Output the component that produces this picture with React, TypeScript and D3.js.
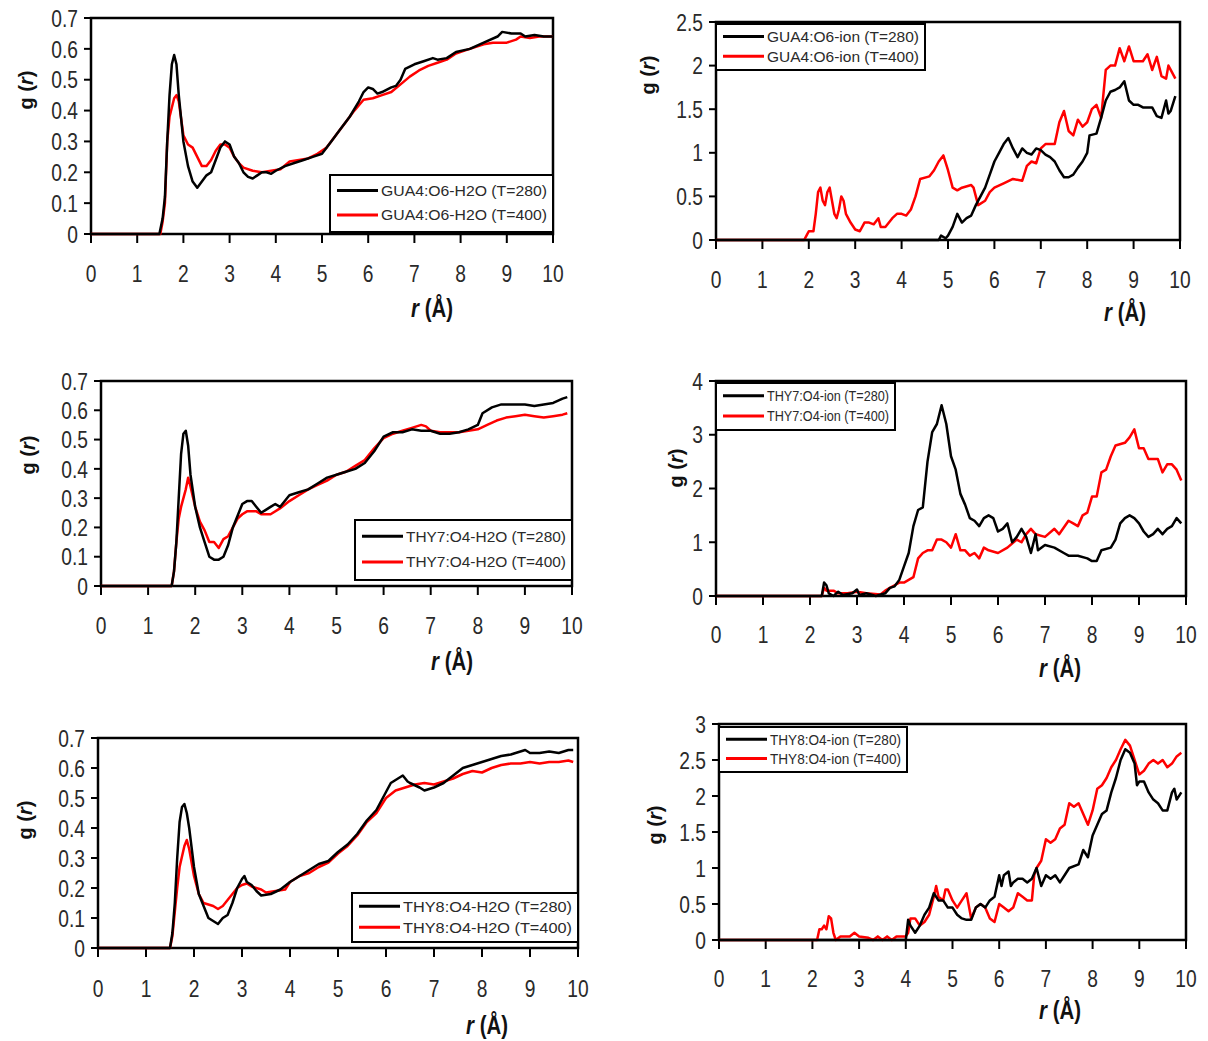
import React from "react";
import * as d3 from "d3";

type Pt = [number, number];

// ---------- DATA ----------
const xTicks = [0, 1, 2, 3, 4, 5, 6, 7, 8, 9, 10];
const yTicksWater = [0, 0.1, 0.2, 0.3, 0.4, 0.5, 0.6, 0.7];
const yTicksGuaIon = [0, 0.5, 1, 1.5, 2, 2.5];
const yTicksThy7Ion = [0, 1, 2, 3, 4];
const yTicksThy8Ion = [0, 0.5, 1, 1.5, 2, 2.5, 3];

const gua4H2O_280: Pt[] = [
  [0, 0], [1.48, 0], [1.55, 0.05], [1.6, 0.12], [1.65, 0.3], [1.7, 0.45], [1.75, 0.55], [1.8, 0.58], [1.85, 0.55],
  [1.9, 0.45], [2.0, 0.3], [2.1, 0.22], [2.2, 0.17], [2.3, 0.15], [2.4, 0.17], [2.5, 0.19], [2.6, 0.2], [2.7, 0.24],
  [2.8, 0.28], [2.9, 0.3], [3.0, 0.29], [3.1, 0.25], [3.2, 0.23], [3.3, 0.2], [3.4, 0.185], [3.5, 0.18], [3.6, 0.19],
  [3.7, 0.2], [3.8, 0.2], [3.9, 0.195], [4.0, 0.205], [4.2, 0.22], [4.4, 0.23], [4.6, 0.24], [4.8, 0.25], [5.0, 0.26],
  [5.2, 0.3], [5.4, 0.34], [5.6, 0.38], [5.8, 0.43], [5.9, 0.46], [6.0, 0.475], [6.1, 0.47], [6.2, 0.455], [6.3, 0.46],
  [6.5, 0.475], [6.6, 0.48], [6.7, 0.5], [6.8, 0.535], [7.0, 0.55], [7.2, 0.56], [7.4, 0.57], [7.5, 0.565], [7.7, 0.57],
  [7.9, 0.59], [8.2, 0.6], [8.5, 0.62], [8.8, 0.64], [8.9, 0.655], [9.1, 0.65], [9.3, 0.65], [9.4, 0.64], [9.6, 0.645],
  [9.8, 0.64], [10, 0.64],
];
const gua4H2O_400: Pt[] = [
  [0, 0], [1.5, 0], [1.55, 0.04], [1.6, 0.1], [1.65, 0.3], [1.7, 0.38], [1.8, 0.44], [1.85, 0.45], [1.9, 0.43],
  [2.0, 0.32], [2.1, 0.29], [2.2, 0.28], [2.3, 0.25], [2.4, 0.22], [2.5, 0.22], [2.6, 0.24], [2.7, 0.27], [2.8, 0.29],
  [2.9, 0.29], [3.0, 0.28], [3.1, 0.25], [3.2, 0.23], [3.3, 0.215], [3.5, 0.205], [3.7, 0.2], [3.9, 0.205], [4.1, 0.21],
  [4.3, 0.235], [4.5, 0.24], [4.7, 0.245], [4.9, 0.26], [5.1, 0.28], [5.3, 0.32], [5.5, 0.36], [5.7, 0.4], [5.9, 0.435],
  [6.1, 0.44], [6.3, 0.45], [6.5, 0.46], [6.7, 0.485], [6.9, 0.51], [7.1, 0.53], [7.3, 0.545], [7.5, 0.555], [7.7, 0.565],
  [7.9, 0.585], [8.1, 0.595], [8.3, 0.605], [8.5, 0.615], [8.7, 0.62], [9.0, 0.62], [9.2, 0.63], [9.3, 0.64], [9.5, 0.635],
  [9.7, 0.64], [10, 0.64],
];

const gua4Ion_280: Pt[] = [
  [0, 0], [4.8, 0], [4.85, 0.05], [4.95, 0.02], [5.0, 0.05], [5.1, 0.15], [5.2, 0.3], [5.3, 0.2], [5.4, 0.25], [5.5, 0.28],
  [5.6, 0.4], [5.7, 0.5], [5.8, 0.6], [5.9, 0.75], [6.0, 0.9], [6.1, 1.0], [6.2, 1.1], [6.3, 1.17], [6.4, 1.05], [6.5, 0.95],
  [6.6, 1.05], [6.7, 1.0], [6.8, 0.98], [6.9, 1.05], [7.0, 1.03], [7.1, 0.98], [7.2, 0.95], [7.3, 0.9], [7.4, 0.8],
  [7.5, 0.72], [7.6, 0.72], [7.7, 0.75], [7.8, 0.83], [7.9, 0.9], [8.0, 1.0], [8.05, 1.2], [8.2, 1.22], [8.3, 1.4],
  [8.4, 1.6], [8.5, 1.7], [8.6, 1.72], [8.7, 1.75], [8.8, 1.82], [8.9, 1.6], [9.0, 1.55], [9.1, 1.55], [9.2, 1.52],
  [9.4, 1.52], [9.5, 1.42], [9.6, 1.4], [9.7, 1.6], [9.75, 1.45], [9.8, 1.48], [9.9, 1.65],
];
const gua4Ion_400: Pt[] = [
  [0, 0], [1.9, 0], [1.95, 0.05], [2.0, 0.1], [2.1, 0.1], [2.15, 0.3], [2.2, 0.55], [2.25, 0.6], [2.3, 0.45], [2.35, 0.4],
  [2.4, 0.55], [2.45, 0.6], [2.5, 0.45], [2.55, 0.3], [2.6, 0.25], [2.65, 0.35], [2.7, 0.5], [2.75, 0.45], [2.8, 0.3],
  [2.9, 0.2], [3.0, 0.12], [3.1, 0.1], [3.2, 0.2], [3.3, 0.2], [3.4, 0.18], [3.5, 0.25], [3.55, 0.15], [3.65, 0.15],
  [3.8, 0.25], [3.9, 0.3], [4.0, 0.3], [4.1, 0.28], [4.2, 0.35], [4.3, 0.5], [4.4, 0.7], [4.6, 0.73], [4.7, 0.8],
  [4.8, 0.9], [4.9, 0.97], [5.0, 0.8], [5.1, 0.6], [5.2, 0.57], [5.3, 0.6], [5.5, 0.63], [5.55, 0.6], [5.65, 0.4],
  [5.8, 0.45], [5.9, 0.55], [6.0, 0.6], [6.2, 0.65], [6.4, 0.7], [6.6, 0.68], [6.7, 0.85], [6.8, 0.9], [6.9, 0.88],
  [7.0, 1.05], [7.1, 1.1], [7.3, 1.1], [7.4, 1.35], [7.5, 1.48], [7.6, 1.25], [7.7, 1.2], [7.8, 1.38], [7.9, 1.3],
  [8.0, 1.35], [8.1, 1.5], [8.2, 1.55], [8.3, 1.4], [8.4, 1.95], [8.5, 2.0], [8.6, 2.0], [8.7, 2.2], [8.8, 2.05],
  [8.9, 2.22], [9.0, 2.05], [9.1, 2.05], [9.2, 2.05], [9.3, 2.13], [9.4, 1.95], [9.5, 2.1], [9.6, 1.88], [9.7, 1.85],
  [9.75, 2.0], [9.8, 1.95], [9.9, 1.85],
];

const thy7H2O_280: Pt[] = [
  [0, 0], [1.5, 0], [1.55, 0.05], [1.6, 0.15], [1.65, 0.3], [1.7, 0.45], [1.75, 0.52], [1.8, 0.53], [1.85, 0.48],
  [1.9, 0.38], [2.0, 0.27], [2.1, 0.2], [2.2, 0.15], [2.3, 0.1], [2.4, 0.09], [2.5, 0.09], [2.6, 0.1], [2.7, 0.14],
  [2.8, 0.2], [2.9, 0.24], [3.0, 0.28], [3.1, 0.29], [3.2, 0.29], [3.3, 0.27], [3.4, 0.25], [3.5, 0.26], [3.6, 0.27],
  [3.7, 0.28], [3.8, 0.27], [4.0, 0.31], [4.2, 0.32], [4.4, 0.33], [4.6, 0.35], [4.8, 0.37], [5.0, 0.38], [5.2, 0.39],
  [5.4, 0.4], [5.6, 0.42], [5.8, 0.46], [6.0, 0.51], [6.2, 0.525], [6.4, 0.525], [6.6, 0.535], [6.8, 0.53], [7.0, 0.53],
  [7.2, 0.52], [7.4, 0.52], [7.6, 0.525], [7.8, 0.535], [8.0, 0.55], [8.1, 0.59], [8.3, 0.61], [8.5, 0.62], [9.0, 0.62],
  [9.2, 0.615], [9.4, 0.62], [9.6, 0.625], [9.8, 0.64], [9.9, 0.645],
];
const thy7H2O_400: Pt[] = [
  [0, 0], [1.5, 0], [1.55, 0.05], [1.6, 0.15], [1.65, 0.23], [1.7, 0.27], [1.8, 0.33], [1.85, 0.37], [1.9, 0.34],
  [2.0, 0.27], [2.1, 0.22], [2.2, 0.19], [2.3, 0.15], [2.4, 0.15], [2.5, 0.13], [2.6, 0.16], [2.7, 0.17], [2.8, 0.2],
  [2.9, 0.23], [3.0, 0.245], [3.1, 0.255], [3.3, 0.255], [3.4, 0.245], [3.6, 0.245], [3.8, 0.265], [4.0, 0.29],
  [4.2, 0.31], [4.4, 0.33], [4.6, 0.345], [4.8, 0.36], [5.0, 0.38], [5.2, 0.39], [5.4, 0.41], [5.6, 0.43], [5.8, 0.47],
  [6.0, 0.505], [6.2, 0.52], [6.4, 0.53], [6.6, 0.54], [6.8, 0.55], [6.9, 0.545], [7.0, 0.53], [7.2, 0.525], [7.4, 0.525],
  [7.6, 0.525], [7.8, 0.53], [8.0, 0.535], [8.2, 0.55], [8.4, 0.565], [8.6, 0.575], [8.8, 0.58], [9.0, 0.585],
  [9.2, 0.58], [9.4, 0.575], [9.6, 0.58], [9.8, 0.585], [9.9, 0.59],
];

const thy7Ion_280: Pt[] = [
  [0, 0], [2.25, 0], [2.3, 0.25], [2.35, 0.2], [2.4, 0.05], [2.5, 0.0], [2.6, 0.08], [2.7, 0.02], [2.9, 0.05], [3.0, 0.12],
  [3.05, 0.02], [3.2, 0.05], [3.4, 0.0], [3.6, 0.05], [3.7, 0.15], [3.8, 0.18], [3.9, 0.3], [4.0, 0.55], [4.1, 0.8],
  [4.2, 1.3], [4.3, 1.6], [4.4, 1.65], [4.5, 2.5], [4.6, 3.05], [4.7, 3.2], [4.8, 3.55], [4.9, 3.2], [5.0, 2.6],
  [5.1, 2.35], [5.2, 1.9], [5.3, 1.7], [5.4, 1.45], [5.5, 1.4], [5.6, 1.3], [5.7, 1.45], [5.8, 1.5], [5.9, 1.45],
  [6.0, 1.2], [6.1, 1.25], [6.2, 1.35], [6.3, 1.0], [6.4, 1.1], [6.5, 1.25], [6.6, 1.1], [6.7, 0.8], [6.8, 1.15],
  [6.85, 0.85], [7.0, 0.95], [7.2, 0.9], [7.4, 0.8], [7.5, 0.75], [7.7, 0.75], [7.9, 0.7], [8.0, 0.65], [8.1, 0.65],
  [8.2, 0.85], [8.4, 0.9], [8.5, 1.05], [8.6, 1.35], [8.7, 1.45], [8.8, 1.5], [8.9, 1.45], [9.0, 1.35], [9.1, 1.2],
  [9.2, 1.1], [9.3, 1.15], [9.4, 1.25], [9.5, 1.15], [9.6, 1.25], [9.7, 1.3], [9.8, 1.45], [9.9, 1.35],
];
const thy7Ion_400: Pt[] = [
  [0, 0], [2.25, 0], [2.3, 0.15], [2.35, 0.1], [2.5, 0.1], [2.6, 0.05], [2.8, 0.05], [3.0, 0.08], [3.2, 0.05], [3.5, 0.03],
  [3.6, 0.1], [3.7, 0.15], [3.8, 0.2], [3.9, 0.25], [4.0, 0.25], [4.1, 0.3], [4.2, 0.35], [4.3, 0.7], [4.4, 0.8],
  [4.5, 0.85], [4.6, 0.85], [4.7, 1.05], [4.8, 1.05], [4.9, 1.0], [5.0, 0.9], [5.1, 1.15], [5.2, 0.85], [5.3, 0.85],
  [5.4, 0.75], [5.5, 0.8], [5.6, 0.7], [5.7, 0.9], [5.8, 0.85], [6.0, 0.8], [6.2, 0.9], [6.4, 1.05], [6.5, 1.0],
  [6.6, 1.15], [6.7, 1.25], [6.8, 1.15], [7.0, 1.1], [7.2, 1.25], [7.3, 1.15], [7.5, 1.4], [7.6, 1.35], [7.7, 1.3],
  [7.8, 1.5], [7.9, 1.55], [8.0, 1.85], [8.1, 1.85], [8.2, 2.3], [8.3, 2.35], [8.4, 2.6], [8.5, 2.8], [8.7, 2.85],
  [8.8, 2.95], [8.9, 3.1], [9.0, 2.75], [9.1, 2.75], [9.2, 2.55], [9.4, 2.55], [9.5, 2.3], [9.6, 2.45], [9.7, 2.45],
  [9.8, 2.35], [9.9, 2.15],
];

const thy8H2O_280: Pt[] = [
  [0, 0], [1.5, 0], [1.55, 0.05], [1.6, 0.15], [1.65, 0.3], [1.7, 0.42], [1.75, 0.47], [1.8, 0.48], [1.85, 0.45],
  [1.9, 0.4], [2.0, 0.27], [2.1, 0.18], [2.2, 0.14], [2.3, 0.1], [2.4, 0.09], [2.5, 0.08], [2.6, 0.1], [2.7, 0.11],
  [2.8, 0.15], [2.9, 0.2], [3.0, 0.23], [3.05, 0.24], [3.1, 0.22], [3.2, 0.21], [3.3, 0.19], [3.4, 0.175], [3.6, 0.18],
  [3.8, 0.195], [4.0, 0.22], [4.2, 0.24], [4.4, 0.26], [4.6, 0.28], [4.8, 0.29], [5.0, 0.32], [5.2, 0.345], [5.4, 0.38],
  [5.6, 0.425], [5.8, 0.46], [6.0, 0.52], [6.1, 0.55], [6.2, 0.56], [6.3, 0.57], [6.35, 0.575], [6.45, 0.555],
  [6.5, 0.55], [6.7, 0.535], [6.8, 0.525], [6.9, 0.53], [7.0, 0.535], [7.2, 0.55], [7.4, 0.575], [7.6, 0.6], [7.8, 0.61],
  [8.0, 0.62], [8.2, 0.63], [8.4, 0.64], [8.6, 0.645], [8.8, 0.655], [8.9, 0.66], [9.0, 0.65], [9.2, 0.65], [9.4, 0.655],
  [9.6, 0.65], [9.8, 0.66], [9.9, 0.66],
];
const thy8H2O_400: Pt[] = [
  [0, 0], [1.5, 0], [1.55, 0.04], [1.6, 0.12], [1.65, 0.2], [1.7, 0.27], [1.8, 0.34], [1.85, 0.36], [1.9, 0.33],
  [2.0, 0.24], [2.1, 0.18], [2.2, 0.15], [2.3, 0.145], [2.4, 0.14], [2.5, 0.13], [2.6, 0.14], [2.7, 0.16], [2.8, 0.18],
  [2.9, 0.2], [3.0, 0.21], [3.1, 0.215], [3.2, 0.205], [3.4, 0.195], [3.5, 0.185], [3.7, 0.19], [3.9, 0.195], [4.0, 0.22],
  [4.2, 0.24], [4.4, 0.25], [4.6, 0.27], [4.8, 0.285], [5.0, 0.315], [5.2, 0.34], [5.4, 0.375], [5.6, 0.42], [5.8, 0.45],
  [6.0, 0.5], [6.2, 0.525], [6.4, 0.535], [6.6, 0.545], [6.8, 0.55], [7.0, 0.545], [7.2, 0.555], [7.4, 0.565],
  [7.6, 0.58], [7.8, 0.59], [8.0, 0.585], [8.2, 0.6], [8.4, 0.61], [8.6, 0.615], [8.8, 0.615], [9.0, 0.62], [9.2, 0.615],
  [9.4, 0.62], [9.6, 0.62], [9.8, 0.625], [9.9, 0.62],
];

const thy8Ion_280: Pt[] = [
  [0, 0], [4.0, 0], [4.05, 0.28], [4.1, 0.2], [4.2, 0.1], [4.3, 0.2], [4.4, 0.35], [4.5, 0.45], [4.6, 0.65], [4.7, 0.55],
  [4.8, 0.55], [4.9, 0.45], [5.0, 0.45], [5.1, 0.35], [5.2, 0.3], [5.3, 0.28], [5.4, 0.28], [5.5, 0.45], [5.6, 0.5],
  [5.7, 0.45], [5.8, 0.55], [5.9, 0.6], [6.0, 0.9], [6.05, 0.75], [6.1, 0.9], [6.2, 0.95], [6.25, 0.75], [6.3, 0.8],
  [6.4, 0.85], [6.5, 0.85], [6.6, 0.8], [6.7, 0.85], [6.8, 1.0], [6.9, 0.75], [7.0, 0.9], [7.1, 0.85], [7.2, 0.9],
  [7.3, 0.8], [7.4, 0.9], [7.5, 1.0], [7.7, 1.05], [7.8, 1.25], [7.9, 1.15], [8.0, 1.45], [8.1, 1.6], [8.2, 1.75],
  [8.3, 1.8], [8.4, 2.05], [8.5, 2.25], [8.6, 2.5], [8.7, 2.65], [8.8, 2.6], [8.9, 2.45], [8.95, 2.15], [9.0, 2.2],
  [9.1, 2.2], [9.2, 2.05], [9.3, 1.95], [9.4, 1.9], [9.5, 1.8], [9.6, 1.8], [9.7, 2.05], [9.75, 2.1], [9.8, 1.95],
  [9.9, 2.05],
];
const thy8Ion_400: Pt[] = [
  [0, 0], [2.1, 0], [2.15, 0.15], [2.2, 0.15], [2.25, 0.2], [2.3, 0.15], [2.35, 0.33], [2.4, 0.3], [2.45, 0.1], [2.5, 0.0],
  [2.6, 0.05], [2.8, 0.05], [2.9, 0.1], [3.0, 0.05], [3.2, 0.03], [3.3, 0.0], [3.4, 0.05], [3.5, 0.0], [3.6, 0.05],
  [3.7, 0.0], [3.8, 0.05], [4.0, 0.05], [4.05, 0.1], [4.1, 0.3], [4.2, 0.3], [4.3, 0.2], [4.4, 0.25], [4.5, 0.35],
  [4.6, 0.6], [4.65, 0.75], [4.7, 0.6], [4.8, 0.55], [4.85, 0.7], [4.9, 0.7], [5.0, 0.55], [5.1, 0.45], [5.2, 0.55],
  [5.3, 0.65], [5.4, 0.3], [5.5, 0.45], [5.6, 0.5], [5.7, 0.45], [5.8, 0.3], [5.9, 0.25], [6.0, 0.5], [6.1, 0.45],
  [6.2, 0.4], [6.3, 0.45], [6.4, 0.65], [6.5, 0.6], [6.6, 0.55], [6.7, 0.55], [6.75, 0.9], [6.8, 1.0], [6.9, 1.1],
  [7.0, 1.4], [7.1, 1.35], [7.2, 1.4], [7.3, 1.55], [7.4, 1.6], [7.5, 1.9], [7.6, 1.85], [7.7, 1.9], [7.8, 1.75],
  [7.9, 1.6], [8.0, 1.8], [8.1, 2.1], [8.2, 2.15], [8.3, 2.25], [8.4, 2.4], [8.5, 2.5], [8.6, 2.65], [8.7, 2.78],
  [8.8, 2.7], [8.9, 2.5], [9.0, 2.3], [9.1, 2.35], [9.2, 2.45], [9.3, 2.5], [9.4, 2.45], [9.5, 2.5], [9.6, 2.4],
  [9.7, 2.45], [9.8, 2.55], [9.9, 2.6],
];

const legendGuaH2O = ["GUA4:O6-H2O (T=280)", "GUA4:O6-H2O (T=400)"];
const legendGuaIon = ["GUA4:O6-ion (T=280)", "GUA4:O6-ion (T=400)"];
const legendThy7H2O = ["THY7:O4-H2O (T=280)", "THY7:O4-H2O (T=400)"];
const legendThy7Ion = ["THY7:O4-ion (T=280)", "THY7:O4-ion (T=400)"];
const legendThy8H2O = ["THY8:O4-H2O (T=280)", "THY8:O4-H2O (T=400)"];
const legendThy8Ion = ["THY8:O4-ion (T=280)", "THY8:O4-ion (T=400)"];

// ---------- LAYOUT ----------
type Panel = {
  x0: number; x1: number; yTop: number; yBot: number;
  yTicks: number[]; s280: Pt[]; s400: Pt[]; legend: string[];
  lg: { x: number; y: number; w: number; h: number };
  xl: { x: number; y: number }; yl: { x: number; y: number };
  tickLabelY: number;
};

const panels: Panel[] = [
  { x0: 91, x1: 553, yTop: 18, yBot: 234, yTicks: yTicksWater, s280: gua4H2O_280, s400: gua4H2O_400, legend: legendGuaH2O,
    lg: { x: 330, y: 175, w: 223, h: 57 }, xl: { x: 432, y: 308 }, yl: { x: 26, y: 90 }, tickLabelY: 273 },
  { x0: 716, x1: 1180, yTop: 22, yBot: 240, yTicks: yTicksGuaIon, s280: gua4Ion_280, s400: gua4Ion_400, legend: legendGuaIon,
    lg: { x: 716, y: 24, w: 209, h: 46 }, xl: { x: 1125, y: 312 }, yl: { x: 648, y: 75 }, tickLabelY: 279 },
  { x0: 101, x1: 572, yTop: 381, yBot: 586, yTicks: yTicksWater, s280: thy7H2O_280, s400: thy7H2O_400, legend: legendThy7H2O,
    lg: { x: 355, y: 520, w: 217, h: 60 }, xl: { x: 452, y: 661 }, yl: { x: 28, y: 455 }, tickLabelY: 625 },
  { x0: 716, x1: 1186, yTop: 381, yBot: 596, yTicks: yTicksThy7Ion, s280: thy7Ion_280, s400: thy7Ion_400, legend: legendThy7Ion,
    lg: { x: 716, y: 383, w: 179, h: 47 }, xl: { x: 1060, y: 668 }, yl: { x: 676, y: 468 }, tickLabelY: 634 },
  { x0: 98, x1: 578, yTop: 738, yBot: 948, yTicks: yTicksWater, s280: thy8H2O_280, s400: thy8H2O_400, legend: legendThy8H2O,
    lg: { x: 352, y: 893, w: 226, h: 49 }, xl: { x: 487, y: 1025 }, yl: { x: 25, y: 820 }, tickLabelY: 988 },
  { x0: 719, x1: 1186, yTop: 724, yBot: 940, yTicks: yTicksThy8Ion, s280: thy8Ion_280, s400: thy8Ion_400, legend: legendThy8Ion,
    lg: { x: 719, y: 727, w: 188, h: 45 }, xl: { x: 1060, y: 1010 }, yl: { x: 655, y: 825 }, tickLabelY: 978 },
];

const tickFont = "'Liberation Sans', Arial, sans-serif";

function TickText({ x, y, anchor, children }: { x: number; y: number; anchor: string; children: React.ReactNode }) {
  return (
    <text transform={`translate(${x},${y}) scale(0.8,1)`} dy="0.36em" textAnchor={anchor} fontFamily={tickFont}
      fontSize={24} fill="#2a2a2a">
      {children}
    </text>
  );
}

function PanelView({ p }: { p: Panel }) {
  const yMax = p.yTicks[p.yTicks.length - 1];
  const x = d3.scaleLinear().domain([0, 10]).range([p.x0, p.x1]);
  const y = d3.scaleLinear().domain([0, yMax]).range([p.yBot, p.yTop]);
  const line = d3.line<Pt>().x((d) => x(d[0])).y((d) => y(d[1])).curve(d3.curveLinear);
  const fmt = (v: number) => String(v);
  return (
    <g>
      <rect x={p.x0} y={p.yTop} width={p.x1 - p.x0} height={p.yBot - p.yTop} fill="#fff" stroke="#000" strokeWidth={2.5} />
      {p.yTicks.map((t) => (
        <g key={"y" + t}>
          <line x1={p.x0 - 7} x2={p.x0} y1={y(t)} y2={y(t)} stroke="#000" strokeWidth={2} />
          <TickText x={p.x0 - 13} y={y(t)} anchor="end">{fmt(t)}</TickText>
        </g>
      ))}
      {xTicks.map((t) => (
        <g key={"x" + t}>
          <line x1={x(t)} x2={x(t)} y1={p.yBot} y2={p.yBot + 9} stroke="#000" strokeWidth={2} />
          <TickText x={x(t)} y={p.tickLabelY} anchor="middle">{fmt(t)}</TickText>
        </g>
      ))}
      <path d={line(p.s400) || ""} fill="none" stroke="#ff0000" strokeWidth={2.5} strokeLinejoin="round" />
      <path d={line(p.s280) || ""} fill="none" stroke="#000" strokeWidth={2.5} strokeLinejoin="round" />
      <rect x={p.lg.x} y={p.lg.y} width={p.lg.w} height={p.lg.h} fill="#fff" stroke="#000" strokeWidth={2} />
      {p.legend.map((label, i) => {
        const cy = p.lg.y + p.lg.h * (i === 0 ? 0.27 : 0.7);
        return (
          <g key={label}>
            <line x1={p.lg.x + 7} x2={p.lg.x + 48} y1={cy} y2={cy} stroke={i === 0 ? "#000" : "#ff0000"} strokeWidth={3} />
            <text x={p.lg.x + 51} y={cy} dy="0.36em" fontFamily={tickFont} fontSize={15} fill="#2a2a2a"
              textLength={p.lg.w - 57} lengthAdjust="spacingAndGlyphs">
              {label}
            </text>
          </g>
        );
      })}
      <text transform={`translate(${p.xl.x},${p.xl.y}) scale(0.85,1.05)`} dy="0.36em" textAnchor="middle" fontFamily={tickFont}
        fontSize={24} fontWeight="bold" fill="#111">
        <tspan fontStyle="italic">r</tspan> (Å)
      </text>
      <text transform={`translate(${p.yl.x},${p.yl.y}) rotate(-90)`} dy="0.36em" textAnchor="middle" fontFamily={tickFont}
        fontSize={20} fontWeight="bold" fill="#111">
        g (<tspan fontStyle="italic">r</tspan>)
      </text>
    </g>
  );
}

export default function App() {
  return (
    <svg width={1208} height={1041} style={{ position: "absolute", left: 0, top: 0, background: "#fff" }}>
      <rect x={0} y={0} width={1208} height={1041} fill="#fff" />
      {panels.map((p, i) => (
        <PanelView key={i} p={p} />
      ))}
    </svg>
  );
}
